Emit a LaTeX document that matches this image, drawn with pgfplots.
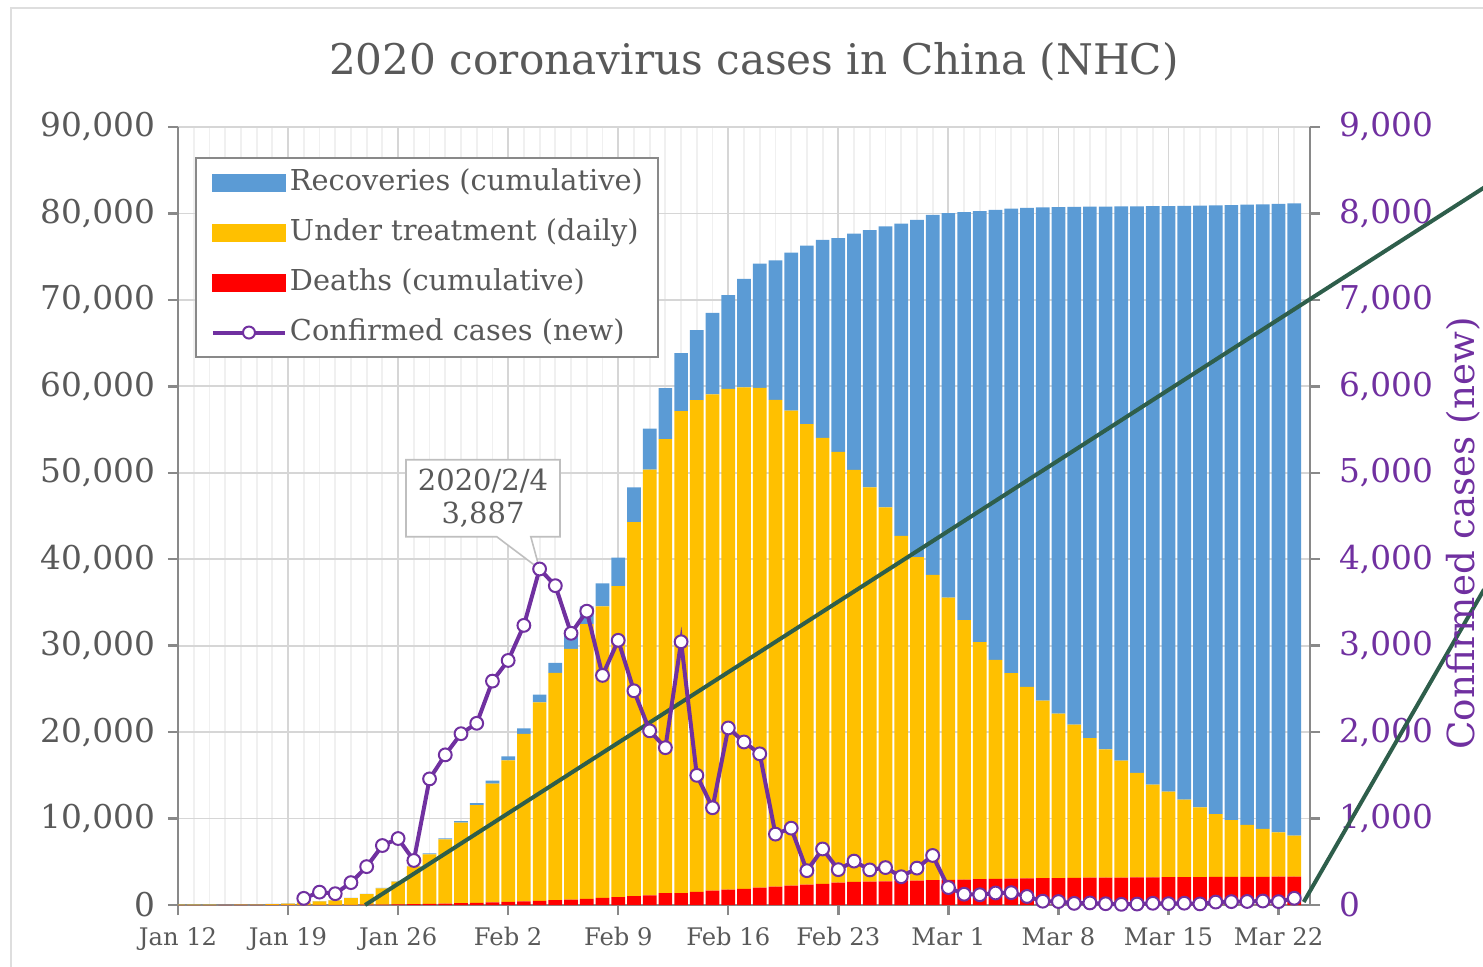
\documentclass[border=0pt]{standalone}
\usepackage{fontspec}
\setmainfont{DejaVu Serif}
\usepackage{pgfplots}
\pgfplotsset{compat=1.18}
\usepackage{pgfplotstable}
\usetikzlibrary{shapes.callouts}

\definecolor{recblue}{HTML}{5B9BD5}
\definecolor{treatyellow}{HTML}{FFC000}
\definecolor{deathred}{HTML}{FF0000}
\definecolor{casepurple}{HTML}{7030A0}
\definecolor{trendgreen}{HTML}{2E5E4B}
\definecolor{txtgray}{HTML}{595959}
\definecolor{axgray}{HTML}{898989}

% day 0 = Jan 12; cumulative deaths, patients under treatment, cumulative recoveries
\pgfplotstableread{
day deaths treat rec
0 1 34 6
1 1 33 7
2 1 33 7
3 2 27 12
4 2 28 15
5 2 41 19
6 3 94 24
7 3 170 25
8 6 260 25
9 9 403 28
10 17 526 28
11 25 771 34
12 41 1208 38
13 56 1870 49
14 80 2613 51
15 106 4349 60
16 132 5739 103
17 170 7417 124
18 213 9308 171
19 259 11289 243
20 304 13748 328
21 361 16369 475
22 425 19381 632
23 490 22942 892
24 563 26302 1153
25 636 28985 1540
26 722 31774 2050
27 811 33738 2649
28 908 35982 3281
29 1016 43284 4000
30 1113 49247 4740
31 1367 52526 5911
32 1380 55748 6723
33 1523 56873 8096
34 1665 57416 9419
35 1770 57934 10844
36 1868 58016 12552
37 2004 57805 14376
38 2118 56303 16155
39 2236 54965 18264
40 2345 53284 20659
41 2442 51606 22888
42 2592 49824 24734
43 2663 47672 27323
44 2715 45604 29745
45 2744 43258 32495
46 2788 39919 36117
47 2835 37414 39002
48 2870 35329 41625
49 2912 32652 44462
50 2943 30004 47204
51 2981 27433 49856
52 3012 25352 52045
53 3042 23784 53726
54 3070 22177 55404
55 3097 20533 57065
56 3119 19016 58600
57 3136 17721 59897
58 3158 16145 61475
59 3169 14831 62793
60 3176 13526 64111
61 3189 12094 65541
62 3199 10734 66911
63 3213 9898 67749
64 3226 8976 68679
65 3237 8056 69601
66 3245 7263 70420
67 3248 6569 71150
68 3255 6013 71740
69 3261 5549 72244
70 3270 5120 72703
71 3277 4735 73159
}\stacktable

% new confirmed cases per day
\pgfplotstableread{
day cases
8 77
9 149
10 131
11 259
12 444
13 688
14 769
15 515
16 1459
17 1737
18 1982
19 2102
20 2590
21 2829
22 3235
23 3887
24 3694
25 3143
26 3399
27 2656
28 3062
29 2478
30 2015
31 1820
32 3045
33 1500
34 1125
35 2048
36 1886
37 1749
38 820
39 889
40 397
41 648
42 409
43 508
44 406
45 433
46 327
47 427
48 573
49 202
50 125
51 119
52 139
53 143
54 99
55 44
56 40
57 19
58 24
59 15
60 8
61 11
62 20
63 16
64 21
65 13
66 34
67 39
68 41
69 46
70 39
71 78
}\newcases

\begin{document}
\begin{tikzpicture}
\useasboundingbox (-89pt,-30.5pt) rectangle (652.5pt,452.5pt);
\clip (-89pt,-30.5pt) rectangle (652.5pt,452.5pt);
% outer frame of the chart area
\draw[color=black!13, line width=1pt] (-83.5pt,-40pt) -- (-83.5pt,448.5pt) -- (700pt,448.5pt);

\begin{axis}[
  scale only axis, width=566pt, height=389pt,
  xmin=0, xmax=72, ymin=0, ymax=90000,
  ybar stacked, bar width=0.87,
  axis x line*=bottom, axis y line*=left,
  axis line style={-, axgray, line width=1.2pt},
  xtick={0,7,...,70},
  xticklabels={Jan 12,Jan 19,Jan 26,Feb 2,Feb 9,Feb 16,Feb 23,Mar 1,Mar 8,Mar 15,Mar 22},
  minor xtick={0,1,...,72},
  ytick={0,10000,...,90000},
  scaled y ticks=false,
  tick align=outside, major tick length=5pt, minor tick length=0pt,
  tick style={axgray, line width=1.2pt},
  xmajorgrids, xminorgrids, ymajorgrids,
  major grid style={color=black!16, line width=0.9pt},
  minor grid style={color=black!6, line width=0.9pt},
  /pgf/number format/assume math mode=true,
  yticklabel style={font=\fontsize{16.4}{18}\selectfont, text=txtgray,
    /pgf/number format/1000 sep={,}, xshift=-3pt},
  xticklabel style={font=\fontsize{12.1}{14}\selectfont, text=txtgray, yshift=-2.5pt},
  title={2020 coronavirus cases in China (NHC)},
  title style={at={(axis description cs:0.5088,1.0861)}, anchor=center, yshift=-7pt,
    font=\fontsize{21.1}{24}\selectfont, text=txtgray},
  legend style={at={(axis description cs:0.015,0.9614)}, anchor=north west,
    draw=axgray, line width=1pt, fill=white, text=txtgray,
    font=\fontsize{14.4}{17}\selectfont,
    nodes={inner sep=0pt, text height=11pt, text depth=3.5pt},
    row sep=10.5pt, column sep=1.5pt, inner xsep=7.5pt, inner ysep=5pt},
  legend cell align=left,
]
\addplot[fill=deathred, draw=none, forget plot] table[x=day, y=deaths]{\stacktable};
\addplot[fill=treatyellow, draw=none, forget plot] table[x=day, y=treat]{\stacktable};
\addplot[fill=recblue, draw=none, forget plot] table[x=day, y=rec]{\stacktable};

\addlegendimage{legend image code/.code={\fill[recblue] (2.5pt,-4pt) rectangle (38.5pt,4pt);}}
\addlegendentry{Recoveries (cumulative)}
\addlegendimage{legend image code/.code={\fill[treatyellow] (2.5pt,-4pt) rectangle (38.5pt,4pt);}}
\addlegendentry{Under treatment (daily)}
\addlegendimage{legend image code/.code={\fill[deathred] (2.5pt,-4pt) rectangle (38.5pt,4pt);}}
\addlegendentry{Deaths (cumulative)}
\addlegendimage{legend image code/.code={\draw[casepurple, line width=2pt] (2.5pt,0pt) -- (38.5pt,0pt);
  \draw[casepurple, line width=1pt, fill=white] (20.5pt,0pt) circle (3pt);}}
\addlegendentry{Confirmed cases (new)}
\end{axis}

\begin{axis}[
  scale only axis, width=566pt, height=389pt,
  xmin=0, xmax=72, ymin=0, ymax=9000,
  axis x line=none, axis y line*=right,
  axis line style={-, axgray, line width=1.2pt},
  ytick={0,1000,...,9000}, scaled y ticks=false,
  tick align=outside, major tick length=5pt,
  tick style={axgray, line width=1.2pt},
  /pgf/number format/assume math mode=true,
  yticklabel style={font=\fontsize{16.4}{18}\selectfont, text=casepurple,
    /pgf/number format/1000 sep={,}, xshift=6pt},
  ylabel={Confirmed cases (new)},
  ylabel style={font=\fontsize{18.6}{21}\selectfont, text=casepurple,
    at={(axis description cs:1.135,0.4777)}, anchor=center},
  clip=false,
]
% straight guide lines
\addplot[trendgreen, line width=2pt] coordinates {(11.9,0) (83.07,8299)};
\addplot[trendgreen, line width=2pt] coordinates {(71.6,35) (83.07,3650)};

\addplot[casepurple, line width=2pt, mark=*, mark size=3.2pt,
  mark options={fill=white, draw=casepurple, line width=1pt}]
  table[x=day, y=cases]{\newcases};

\node[rectangle callout, draw=black!25, line width=0.8pt, fill=white,
  callout absolute pointer={(axis cs:23,3887)}, callout pointer width=17pt,
  minimum width=77pt, minimum height=38.5pt, inner sep=0pt, align=center,
  font=\fontsize{14.5}{16.5}\selectfont, text=txtgray]
  at (axis cs:19.4,4705) {2020/2/4\\3,887};
\end{axis}
\end{tikzpicture}
\end{document}
